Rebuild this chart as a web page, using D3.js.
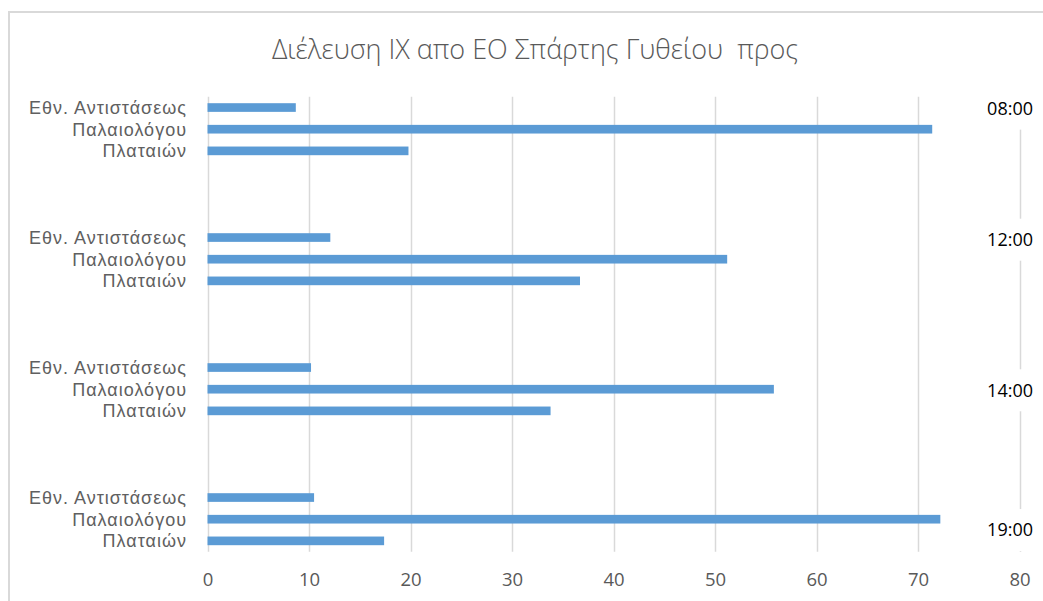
<!DOCTYPE html>
<html>
<head>
<meta charset="utf-8">
<script src="https://cdn.jsdelivr.net/npm/d3@7"></script>
<style>
  html, body { margin: 0; padding: 0; background: #fff; }
  svg { display: block; }
</style>
</head>
<body>
<svg id="chart" width="1043" height="601"></svg>
<script>
// Time slots (one group of bars each) and the three destination streets
const times = ["08:00", "12:00", "14:00", "19:00"];
const streets = ["Εθν. Αντιστάσεως", "Παλαιολόγου", "Πλαταιών"];

// Vehicle counts per street, one value per time slot
const ethnAntistaseos = [8.7, 12.1, 10.2, 10.5];
const palaiologou     = [71.4, 51.2, 55.8, 72.2];
const plataion        = [19.8, 36.7, 33.8, 17.4];

const xTicks = [0, 10, 20, 30, 40, 50, 60, 70, 80];
const title = "Διέλευση ΙΧ απο ΕΟ Σπάρτης Γυθείου  προς";

// Time label placement, as a fractional row offset inside each group
const timeRowOffset = [0.05, 0.1, 1.05, 1.5];

const series = [ethnAntistaseos, palaiologou, plataion];

// Build rows: three bars per group followed by three empty spacer rows
const rows = [];
times.forEach((t, g) => {
  streets.forEach((s, i) => rows.push({ key: `${g}-${i}`, group: g, street: s, value: series[i][g] }));
  if (g < times.length - 1) {
    for (let k = 0; k < 3; k++) rows.push({ key: `${g}-gap${k}`, group: g, spacer: true });
  }
});
const bars = rows.filter(r => !r.spacer);

const svg = d3.select("#chart");
const grey = "#595959";
const font = "'Open Sans', 'Noto Sans', sans-serif";
const labelFont = "'Liberation Sans', Arial, sans-serif";

// Outer chart frame
svg.append("path")
  .attr("d", "M9,601 L9,12 L1043,12")
  .attr("fill", "none")
  .attr("stroke", "#d9d9d9")
  .attr("stroke-width", 2);

const plot = { left: 207.5, right: 1019.5, top: 96.7, bottom: 551.7 };

const x = d3.scaleLinear().domain([0, 80]).range([plot.left, plot.right]);
const y = d3.scaleBand()
  .domain(rows.map(r => r.key))
  .range([plot.top, plot.bottom])
  .paddingInner(0.6)
  .paddingOuter(0.3);

// Vertical gridlines
svg.append("g")
  .selectAll("line")
  .data(xTicks)
  .join("line")
  .attr("x1", d => Math.round(x(d)) + 0.5)
  .attr("x2", d => Math.round(x(d)) + 0.5)
  .attr("y1", plot.top)
  .attr("y2", plot.bottom)
  .attr("stroke", "#d9d9d9")
  .attr("stroke-width", 1.5);

// Bars
svg.append("g")
  .selectAll("rect")
  .data(bars)
  .join("rect")
  .attr("x", x(0))
  .attr("y", d => y(d.key))
  .attr("width", d => x(d.value) - x(0))
  .attr("height", y.bandwidth())
  .attr("fill", "#5b9bd5");

// Category labels
svg.append("g")
  .selectAll("text")
  .data(bars)
  .join("text")
  .attr("x", 187)
  .attr("y", d => y(d.key) + y.bandwidth() / 2)
  .attr("dy", "0.36em")
  .attr("text-anchor", "end")
  .attr("font-family", labelFont)
  .attr("font-size", 18)
  .attr("letter-spacing", 1)
  .attr("fill", "#606060")
  .text(d => d.street);

// X axis tick labels
const xAxis = d3.axisBottom(x).tickValues(xTicks).tickSize(0).tickPadding(0);
const axisG = svg.append("g")
  .attr("transform", `translate(0, ${plot.bottom + 21})`)
  .call(xAxis);
axisG.select(".domain").remove();
axisG.selectAll("text")
  .attr("font-family", font)
  .attr("font-size", 18.5)
  .attr("fill", grey);

// Time slot labels on the right, each on a white box
const step = y.step();
const timeG = svg.append("g");
times.forEach((t, g) => {
  const cy = y(`${g}-0`) + y.bandwidth() / 2 + timeRowOffset[g] * step;
  timeG.append("rect")
    .attr("x", 965)
    .attr("y", cy - 21)
    .attr("width", 76)
    .attr("height", 42)
    .attr("fill", "#fff");
  timeG.append("text")
    .attr("x", 1033)
    .attr("y", cy)
    .attr("dy", "0.35em")
    .attr("text-anchor", "end")
    .attr("font-family", font)
    .attr("font-size", 18)
    .attr("fill", "#000")
    .text(t);
});

// Title
svg.append("text")
  .attr("x", 535)
  .attr("y", 50)
  .attr("dy", "0.35em")
  .attr("text-anchor", "middle")
  .attr("font-family", font)
  .attr("font-weight", 300)
  .attr("font-size", 27)
  .attr("fill", grey)
  .style("white-space", "pre")
  .text(title);
</script>
</body>
</html>
